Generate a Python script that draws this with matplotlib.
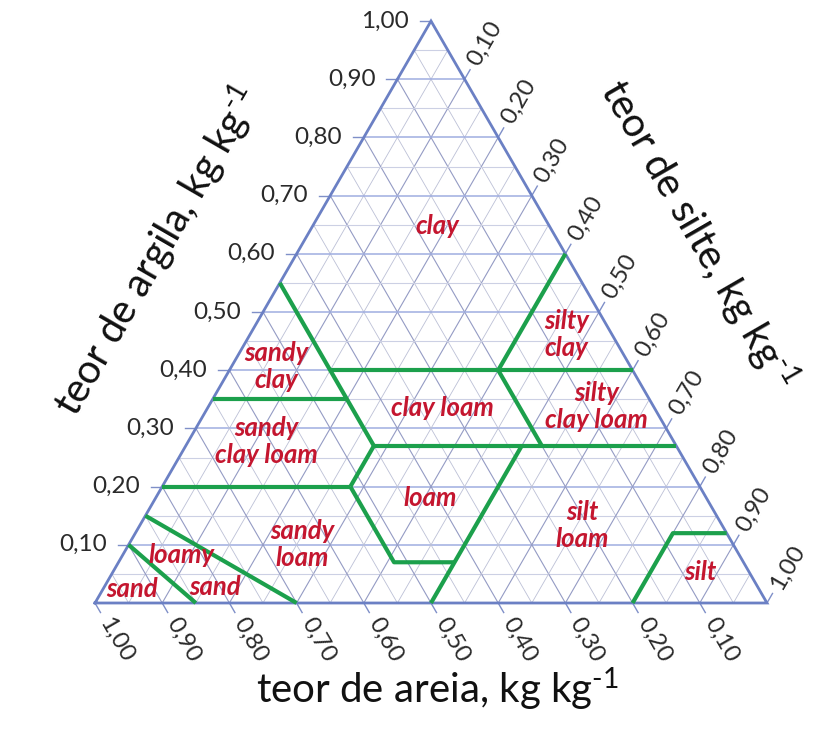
import numpy as np
import matplotlib
matplotlib.use("Agg")
import matplotlib.pyplot as plt

plt.rcParams['font.family'] = ['Lato', 'DejaVu Sans']
plt.rcParams['mathtext.fontset'] = 'custom'
plt.rcParams['mathtext.rm'] = 'Lato'
plt.rcParams['mathtext.it'] = 'Lato:italic'

SQ = np.sqrt(3) / 2

# Tick values shared by the three axes (fractions)
tick_values = [0.10, 0.20, 0.30, 0.40, 0.50, 0.60, 0.70, 0.80, 0.90, 1.00]
tick_labels = ["0,10", "0,20", "0,30", "0,40", "0,50", "0,60", "0,70", "0,80", "0,90", "1,00"]

# USDA texture class boundaries as (sand, clay) polylines
boundary_sand = [
    [0.45, 0.45],          # sandy clay / clay, clay loam
    [0.45, 0.00],          # clay 0.40
    [0.20, 0.00],          # silt 0.40
    [0.65, 0.45],          # clay 0.35
    [0.45, 0.00],          # clay 0.27
    [0.20, 0.20],          # sand 0.20
    [0.45, 0.52],          # silt 0.28
    [0.80, 0.52],          # clay 0.20
    [0.52, 0.52, 0.43],    # sand 0.52 then clay 0.07
    [0.50, 0.23],          # silt 0.50
    [0.85, 0.70],          # sandy loam / loamy sand
    [0.90, 0.85],          # loamy sand / sand
    [0.20, 0.08, 0.00],    # silt loam / silt
]
boundary_clay = [
    [0.55, 0.27],
    [0.40, 0.40],
    [0.40, 0.60],
    [0.35, 0.35],
    [0.27, 0.27],
    [0.40, 0.27],
    [0.27, 0.20],
    [0.20, 0.20],
    [0.20, 0.07, 0.07],
    [0.00, 0.27],
    [0.15, 0.00],
    [0.10, 0.00],
    [0.00, 0.12, 0.12],
]

# Texture class names and their (sand, clay) anchor
class_names = ["clay", "sandy\nclay", "silty\nclay", "clay loam", "silty\nclay loam",
               "sandy\nclay loam", "loam", "silt\nloam", "sandy\nloam",
               "loamy", "sand", "sand", "silt"]
class_sand = [0.167, 0.527, 0.067, 0.316, 0.085, 0.606, 0.412, 0.208, 0.641,
              0.830, 0.808, 0.933, 0.073]
class_clay = [0.648, 0.407, 0.462, 0.335, 0.338, 0.278, 0.180, 0.134, 0.101,
              0.0825, 0.0275, 0.024, 0.053]


def xy(sand, clay):
    sand = np.asarray(sand, float)
    clay = np.asarray(clay, float)
    return 1 - sand - clay / 2, clay * SQ


PX = 1 / 672.0  # one pixel in data units

fig = plt.figure(figsize=(8.39, 7.31), dpi=100)
ax = fig.add_axes([0, 0, 1, 1])
ax.set_xlim(-95 * PX, 744 * PX)
ax.set_ylim(-128 * PX, 603 * PX)
ax.axis('off')

# Grid in the three directions
for k in range(1, 20):
    v = k * 0.05
    major = (k % 2 == 0)
    hcol = '#9fade0' if major else '#ccd0e4'
    dcol = '#949bc4' if major else '#bcc0d6'
    lw_h = 1.1 if major else 0.8
    lw_d = 0.8 if major else 0.6
    # constant clay
    x, y = xy([1 - v, 0.0], [v, v])
    ax.plot(x, y, color=hcol, lw=lw_h, zorder=1)
    # constant sand
    x, y = xy([v, v], [0.0, 1 - v])
    ax.plot(x, y, color=dcol, lw=lw_d, zorder=1)
    # constant silt
    x, y = xy([1 - v, 0.0], [0.0, 1 - v])
    ax.plot(x, y, color=dcol, lw=lw_d, zorder=1)

# Triangle outline
x, y = xy([1, 0, 0, 1], [0, 0, 1, 0])
ax.plot(x, y, color='#6b80c4', lw=2.0, zorder=3, solid_joinstyle='miter')

# Class boundaries
for s, c in zip(boundary_sand, boundary_clay):
    x, y = xy(s, c)
    ax.plot(x, y, color='#1ca04c', lw=3.0, zorder=4, solid_capstyle='butt')

# Class names
for name, s, c in zip(class_names, class_sand, class_clay):
    x, y = xy(s, c)
    ax.text(x, y, name, color='#c4162f', fontsize=18.5, fontweight='bold',
            fontstyle='italic', ha='center', va='center', linespacing=1.15,
            zorder=5)

tick_col = '#7f8fc8'
tick_len = 11 * PX
lab_col = '#2a2a2a'
tick_fs = 17.5

# Clay axis (left edge)
for v, lab in zip(tick_values, tick_labels):
    x, y = xy(1 - v, v)
    ax.plot([x - tick_len, x], [y, y], color=tick_col, lw=1.0, zorder=2)
    ax.text(x - 22 * PX, y, lab, ha='right', va='center', fontsize=tick_fs,
            color=lab_col)

# Silt axis (right edge)
dx, dy = 0.5, SQ
for v, lab in zip(tick_values, tick_labels):
    x, y = xy(0.0, 1 - v)
    ax.plot([x, x + dx * tick_len], [y, y + dy * tick_len], color=tick_col,
            lw=1.0, zorder=2)
    d = 41 * PX
    ax.text(x + dx * d, y + dy * d, lab, ha='center', va='center',
            fontsize=tick_fs, rotation=60, rotation_mode='anchor', color=lab_col)

# Sand axis (bottom edge)
dx, dy = 0.5, -SQ
for v, lab in zip(tick_values, tick_labels):
    x, y = xy(v, 0.0)
    ax.plot([x, x + dx * tick_len], [y, y + dy * tick_len], color=tick_col,
            lw=1.0, zorder=2)
    d = 43 * PX
    ax.text(x + dx * d, y + dy * d, lab, ha='center', va='center',
            fontsize=tick_fs, rotation=-60, rotation_mode='anchor', color=lab_col)

# Axis titles
title_kw = dict(fontsize=29, color='#111111', ha='center', va='center',
                rotation_mode='anchor')
sup = r'$^{\text{-1}}$'
ax.text(62 * PX, 352 * PX, 'teor de argila, kg kg' + sup,
        rotation=60, **title_kw)
ax.text(603 * PX, 368 * PX, 'teor de silte, kg kg' + sup,
        rotation=-60, **title_kw)
ax.text(342 * PX, -86 * PX, 'teor de areia, kg kg' + sup,
        rotation=0, **title_kw)

fig.savefig('out.png', dpi=100)
